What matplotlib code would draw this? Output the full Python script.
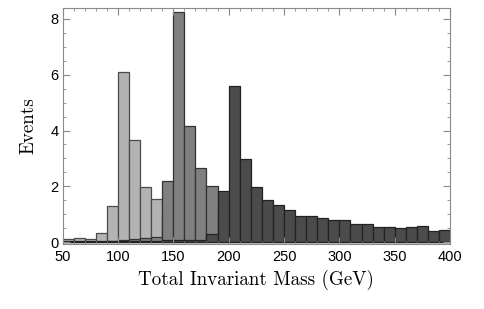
import matplotlib
matplotlib.use("Agg")
import matplotlib.pyplot as plt
import numpy as np

# bin edges 50..400 GeV, width 10
bin_edges = list(range(50, 410, 10))

# events per bin (hidden parts are rough guesses)
light = [0.10, 0.15, 0.10, 0.32, 1.28, 6.09, 3.66, 1.99, 1.54, 0.90,
         0.50, 0.30, 0.20, 0.10, 0.05, 0.03, 0.02, 0.0, 0.0, 0.0,
         0.0, 0.0, 0.0, 0.0, 0.0, 0.0, 0.0, 0.0, 0.0, 0.0,
         0.0, 0.0, 0.0, 0.0, 0.0]
medium = [0.0, 0.0, 0.0, 0.0, 0.03, 0.06, 0.10, 0.165, 0.20, 2.20,
          8.23, 4.17, 2.65, 2.02, 1.00, 0.60, 0.40, 0.20, 0.10, 0.05,
          0.03, 0.02, 0.0, 0.0, 0.0, 0.0, 0.0, 0.0, 0.0, 0.0,
          0.0, 0.0, 0.0, 0.0, 0.0]
dark = [0.05, 0.05, 0.05, 0.05, 0.04, 0.04, 0.04, 0.04, 0.05, 0.06,
        0.06, 0.09, 0.08, 0.31, 1.84, 5.60, 2.97, 1.97, 1.52, 1.33,
        1.15, 0.93, 0.92, 0.88, 0.79, 0.80, 0.64, 0.64, 0.55, 0.54,
        0.51, 0.56, 0.57, 0.39, 0.44]

centers = np.array(bin_edges[:-1]) + 5

fig = plt.figure(figsize=(4.85, 3.09), dpi=100)
ax = fig.add_axes([0.129, 0.210, 0.799, 0.765])

for vals, fc, ec in [(light, '#b3b3b3', '#4a4a4a'),
                     (medium, '#808080', '#333333'),
                     (dark, '#4b4b4b', '#222222')]:
    ax.hist(centers, bins=bin_edges, weights=vals, histtype='bar',
            color=fc, edgecolor=ec, linewidth=0.9)

ax.set_xlim(50, 400)
ax.set_ylim(-0.07, 8.4)
ax.set_xticks(range(50, 401, 50))
ax.set_xticks(range(50, 401, 10), minor=True)
ax.set_yticks([0, 2, 4, 6, 8])
ax.set_yticks(np.arange(0, 8.5, 0.5), minor=True)

for s in ax.spines.values():
    s.set_color('#8a8a8a')
    s.set_linewidth(0.8)
ax.tick_params(which='both', direction='in', top=True, right=True,
               color='#8a8a8a', labelsize=10.5)
ax.tick_params(axis='x', pad=4.5)
ax.tick_params(axis='y', pad=3)
ax.tick_params(which='major', length=5)
ax.tick_params(which='minor', length=2.5)
for lab in ax.get_xticklabels() + ax.get_yticklabels():
    lab.set_family('Liberation Sans')

ax.set_xlabel('Total Invariant Mass (GeV)', family='cmr10', fontsize=13.7, labelpad=4)
ax.set_ylabel('Events', family='cmr10', fontsize=13.7, labelpad=9)

fig.savefig('out.png', dpi=100)
